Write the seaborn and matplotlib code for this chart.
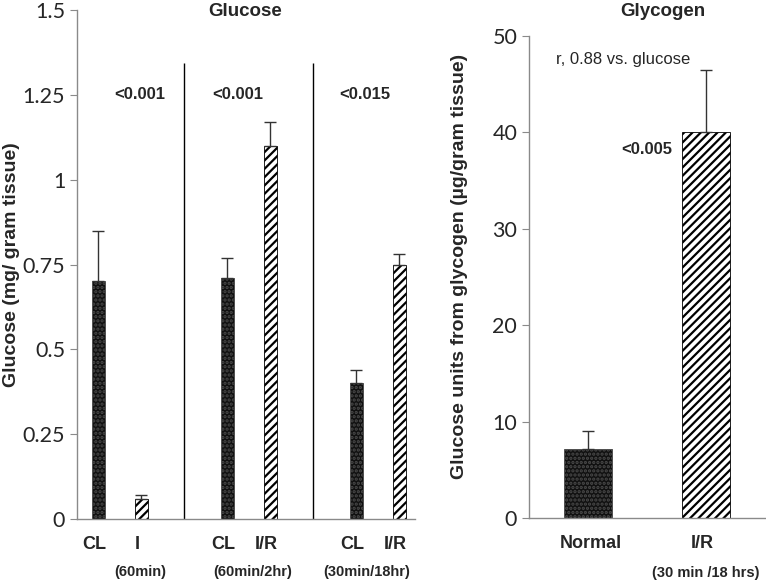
import numpy as np
import pandas as pd
import matplotlib
matplotlib.use("Agg")
import matplotlib.pyplot as plt
import seaborn as sns

# glucose panel
glu_pos = [0, 1, 3, 4, 6, 7]
glu_labels = ["CL", "I", "CL", "I/R", "CL", "I/R"]
glu_mean = [0.70, 0.06, 0.71, 1.10, 0.40, 0.75]
glu_err = [0.15, 0.01, 0.06, 0.07, 0.04, 0.03]
glu_kind = ["ctrl", "isch", "ctrl", "isch", "ctrl", "isch"]
glu_groups = ["(60min)", "(60min/2hr)", "(30min/18hr)"]
glu_group_x = [0.97, 3.59, 6.24]
glu_pvals = ["<0.001", "<0.001", "<0.015"]
glu_pval_x = [0.97, 3.24, 6.2]

# glycogen panel
gly_labels = ["Normal", "I/R"]
gly_mean = [7.2, 40.0]
gly_err = [1.8, 6.5]
gly_kind = ["ctrl", "isch"]

sns.set_style("white")
plt.rcParams["font.family"] = ["Liberation Sans", "DejaVu Sans"]
plt.rcParams["hatch.linewidth"] = 1.6

fig = plt.figure(figsize=(7.66, 5.81), dpi=100)
ax1 = fig.add_axes([0.1005, 0.1067, 0.441, 0.876])
ax2 = fig.add_axes([0.6906, 0.1084, 0.308, 0.8296])


def style_bars(ax, kinds):
    for p, k in zip(ax.patches, kinds):
        if k == "ctrl":
            p.set_facecolor("#111111")
            p.set_edgecolor("#4a4a4a")
            p.set_hatch("....")
            p.set_linewidth(0.6)
        else:
            p.set_facecolor("white")
            p.set_edgecolor("black")
            p.set_hatch("////")
            p.set_linewidth(0.6)


def style_axis(ax):
    for s in ["top", "right"]:
        ax.spines[s].set_visible(False)
    for s in ["left", "bottom"]:
        ax.spines[s].set_color("#8a8a8a")
        ax.spines[s].set_linewidth(1.0)
    ax.tick_params(axis="y", left=True, length=5, color="#8a8a8a", labelsize=15.5)
    ax.tick_params(axis="x", bottom=False, length=0)
    for t in ax.get_yticklabels():
        t.set_fontfamily("Lato")


df1 = pd.DataFrame({"pos": glu_pos, "val": glu_mean})
sns.barplot(data=df1, x="pos", y="val", native_scale=True, width=0.3,
            errorbar=None, ax=ax1)
style_bars(ax1, glu_kind)
ax1.errorbar(glu_pos, glu_mean, yerr=[np.zeros(6), glu_err], fmt="none",
             ecolor="#333333", elinewidth=1, capsize=4, capthick=1)
ax1.set_xlim(-0.5, 7.36)
ax1.set_ylim(0, 1.5)
ax1.set_yticks([0, 0.25, 0.5, 0.75, 1, 1.25, 1.5])
ax1.set_yticklabels(["0", "0.25", "0.5", "0.75", "1", "1.25", "1.5"])
ax1.set_xticks([p - 0.1 for p in glu_pos])
ax1.set_xticklabels(glu_labels, fontsize=13, fontweight="bold")
ax1.tick_params(axis="x", pad=12)
ax1.set_xlabel("")
ax1.set_ylabel("")
style_axis(ax1)
ax1.vlines([2, 5], 0, 1.344, color="black", linewidth=1)
for x, t in zip(glu_pval_x, glu_pvals):
    ax1.text(x, 1.25, t, ha="center", va="center", fontsize=12, fontweight="bold")
for x, t in zip(glu_group_x, glu_groups):
    ax1.text(x, -0.157, t, ha="center", va="center", fontsize=10.5, fontweight="bold")

df2 = pd.DataFrame({"cat": gly_labels, "val": gly_mean})
sns.barplot(data=df2, x="cat", y="val", width=0.4, errorbar=None, ax=ax2)
style_bars(ax2, gly_kind)
ax2.errorbar([0, 1], gly_mean, yerr=[np.zeros(2), gly_err], fmt="none",
             ecolor="#333333", elinewidth=1, capsize=4, capthick=1)
ax2.set_xlim(-0.5, 1.5)
ax2.set_ylim(0, 50)
ax2.set_yticks([0, 10, 20, 30, 40, 50])
ax2.set_xticks([0.02, 0.97])
ax2.set_xticklabels(gly_labels, fontsize=13, fontweight="bold")
ax2.tick_params(axis="x", pad=12)
ax2.set_xlabel("")
ax2.set_ylabel("")
style_axis(ax2)
ax2.text(0.3, 47.6, "r, 0.88 vs. glucose", ha="center", va="center", fontsize=12)
ax2.text(0.5, 38.2, "<0.005", ha="center", va="center", fontsize=12, fontweight="bold")
ax2.text(1.0, -5.7, "(30 min /18 hrs)", ha="center", va="center", fontsize=10.5, fontweight="bold")

fig.text(245 / 766, 1 - 12 / 581, "Glucose", ha="center", va="center",
         fontsize=13.5, fontweight="bold")
fig.text(663 / 766, 1 - 12 / 581, "Glycogen", ha="center", va="center",
         fontsize=13.5, fontweight="bold")
fig.text(12 / 766, 1 - 265 / 581, "Glucose (mg/ gram tissue)", rotation=90,
         ha="center", va="center", fontsize=14, fontweight="bold")
fig.text(460 / 766, 1 - 266 / 581, "Glucose units from glycogen (µg/gram tissue)",
         rotation=90, ha="center", va="center", fontsize=14, fontweight="bold")

fig.savefig("out.png", dpi=100)
